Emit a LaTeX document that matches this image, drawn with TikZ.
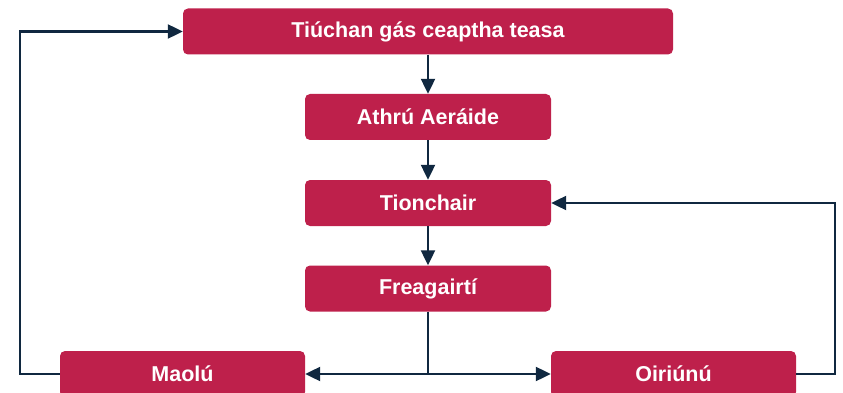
\documentclass[tikz,border=0pt]{standalone}
\usepackage{fontspec}
\setmainfont{Liberation Sans}
\usetikzlibrary{arrows.meta}
\definecolor{boxred}{RGB}{190,32,75}
\definecolor{navy}{RGB}{16,40,64}
\tikzset{
  box/.style={draw=none, fill=boxred, rounded corners=5pt, inner sep=0pt,
    text=white, font=\fontsize{21.5}{24}\selectfont\bfseries,
    minimum height=46pt},
  conn/.style={draw=navy, line width=2.2pt},
  arr/.style={conn, -{Triangle[length=15pt,width=14pt]}}
}
\begin{document}
\begin{tikzpicture}[x=1pt,y=-1pt]
\clip (0,0) rectangle (843,393);
\useasboundingbox (0,0) rectangle (843,393);
\node[box, minimum width=490pt] (top) at (428,31.5) {Tiúchan gás ceaptha teasa};
\node[box, minimum width=246pt] (athru) at (428,117) {Athrú Aeráide};
\node[box, minimum width=246pt] (tion) at (428,203) {Tionchair};
\node[box, minimum width=246pt] (freag) at (428,288.5) {Freagairtí};
\node[box, minimum width=245pt] (maolu) at (182.5,374) {Maolú};
\node[box, minimum width=245pt] (oiri) at (673.5,374) {Oiriúnú};
\coordinate (j) at (428,374);
\draw[arr] (top) -- (athru);
\draw[arr] (athru) -- (tion);
\draw[arr] (tion) -- (freag);
\draw[conn] (freag.south) -- (j);
\draw[arr] (j) -- (maolu.east);
\draw[arr] (j) -- (oiri.west);
\draw[arr] (maolu.west) -- ++(-40,0) |- (top.west);
\draw[arr] (oiri.east) -- ++(39,0) |- (tion.east);
\end{tikzpicture}
\end{document}
